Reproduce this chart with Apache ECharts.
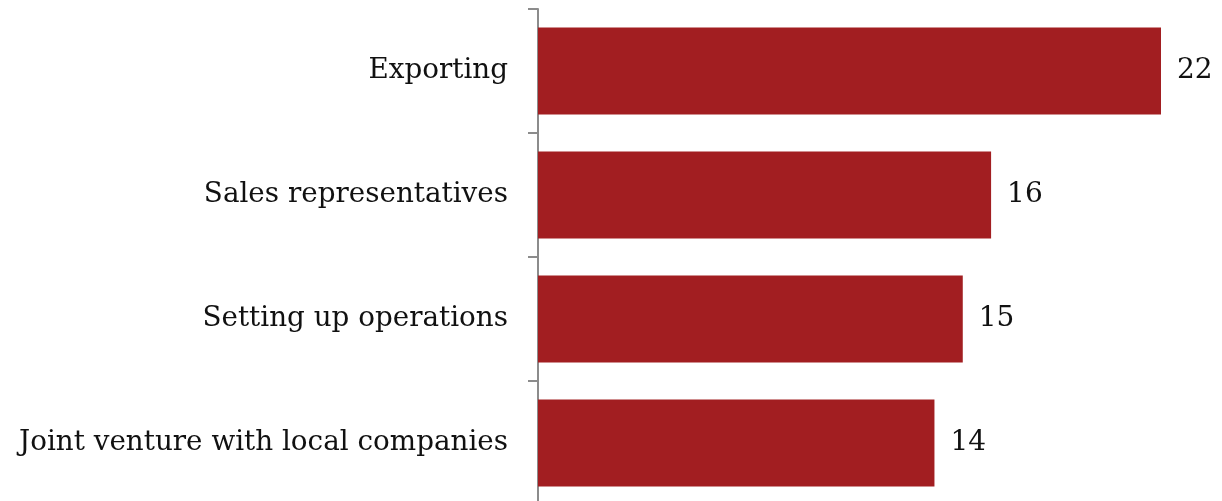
<!DOCTYPE html>
<html><head><meta charset="utf-8">
<script src="https://cdn.jsdelivr.net/npm/echarts@6/dist/echarts.min.js"></script>
<style>html,body{margin:0;padding:0;background:#fff}#c{width:1222px;height:501px}</style>
</head><body><div id="c"></div>
<script>
const categories = ["Exporting", "Sales representatives", "Setting up operations", "Joint venture with local companies"];
const values = [22, 16, 15, 14];

const chart = echarts.init(document.getElementById('c'));
chart.setOption({
  animation: false,
  grid: { left: 538, right: 61, top: 9, height: 496, containLabel: false, outerBoundsMode: 'none' },
  xAxis: { type: 'value', min: 0, max: 22, show: false },
  yAxis: {
    type: 'category', data: categories, inverse: true,
    axisLine: { lineStyle: { color: '#8c8c8c', width: 2 } },
    axisTick: { show: true, length: 10, lineStyle: { color: '#8c8c8c', width: 2 } },
    axisLabel: { margin: 30, color: '#111', fontFamily: 'DejaVu Serif', fontSize: 27.8 }
  },
  series: [{
    type: 'bar', data: values, barCategoryGap: '30%',
    itemStyle: { color: '#A21E21' },
    label: { show: true, position: 'right', distance: 16, color: '#111', fontFamily: 'DejaVu Serif', fontSize: 28 }
  }]
});
</script></body></html>
